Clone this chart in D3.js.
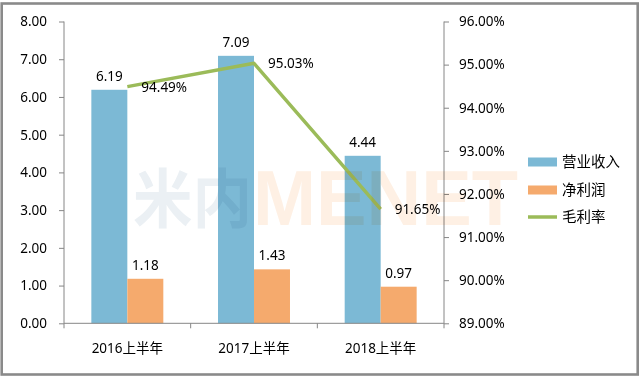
<!DOCTYPE html>
<html><head><meta charset="utf-8">
<script src="https://cdn.jsdelivr.net/npm/d3@7"></script>
<style>
html,body{margin:0;padding:0;background:#fff;}
svg{display:block;}
text{font-family:"Noto Sans","Noto Sans CJK SC",sans-serif;fill:#000;}
</style></head>
<body>
<svg id="c" width="641" height="378"></svg>
<script>
const categories = ["2016上半年","2017上半年","2018上半年"];
const revenue = [6.19, 7.09, 4.44];
const netProfit = [1.18, 1.43, 0.97];
const grossMargin = [94.49, 95.03, 91.65];
const leftTicks = [0,1,2,3,4,5,6,7,8];
const rightTicks = [89,90,91,92,93,94,95,96];
const seriesNames = ["营业收入","净利润","毛利率"];
const colors = {rev:"#7cb9d5", net:"#f5aa6d", gm:"#9bbb59"};

const svg = d3.select("#c");
const fs = 13.5;

// outer frame
svg.append("rect").attr("x",1.7).attr("y",3.5).attr("width",636).attr("height",371)
  .attr("fill","#fff").attr("stroke","#8a8a8a").attr("stroke-width",2.6);

const x0 = 64, x1 = 444, yTop = 21.5, yBot = 323.3;
const x = d3.scaleBand().domain(categories).range([x0,x1]).paddingInner(0).paddingOuter(0);
const xs = d3.scaleBand().domain(["rev","net"]).range([0,x.bandwidth()]).paddingInner(0).paddingOuter(0.76);
const yL = d3.scaleLinear().domain([0,8]).range([yBot,yTop]);
const yR = d3.scaleLinear().domain([89,96]).range([yBot,yTop]);

// bars
const g = svg.append("g");
categories.forEach((c,i)=>{
  [["rev",revenue[i]],["net",netProfit[i]]].forEach(([k,v])=>{
    g.append("rect").attr("x",x(c)+xs(k)).attr("y",yL(v))
      .attr("width",xs.bandwidth()).attr("height",yBot-yL(v)).attr("fill",colors[k]);
    g.append("text").attr("x",x(c)+xs(k)+xs.bandwidth()/2).attr("y",yL(v)-9)
      .attr("text-anchor","middle").attr("font-size",fs).text(v.toFixed(2));
  });
});

// axes
const axisColor = "#868686";
const aL = svg.append("g").attr("transform",`translate(${x0},0)`)
  .call(d3.axisLeft(yL).tickValues(leftTicks).tickSize(5).tickPadding(12).tickFormat(d=>d.toFixed(2)));
const aR = svg.append("g").attr("transform",`translate(${x1},0)`)
  .call(d3.axisRight(yR).tickValues(rightTicks).tickSize(5).tickPadding(10).tickFormat(d=>d.toFixed(2)+"%"));
const aB = svg.append("g").attr("transform",`translate(0,${yBot})`)
  .call(d3.axisBottom(x).tickSize(0).tickPadding(20));
const tickPos = [x0].concat(categories.map(c=>x(c)+x.bandwidth()));
svg.append("g").selectAll("line").data(tickPos).join("line")
  .attr("x1",d=>d).attr("x2",d=>d).attr("y1",yBot).attr("y2",yBot+5).attr("stroke",axisColor);
[aL,aR,aB].forEach(a=>{
  a.select(".domain").attr("stroke",axisColor).attr("stroke-width",1);
  a.selectAll(".tick line").attr("stroke",axisColor);
  a.selectAll("text").attr("font-size",fs).attr("font-family",'"Noto Sans","Noto Sans CJK SC",sans-serif').attr("fill","#000");
});
aL.select(".domain").attr("d",`M0,${yTop}V${yBot}`);
aR.select(".domain").attr("d",`M0,${yTop}V${yBot}`);
aB.select(".domain").attr("d",`M${x0},0H${x1}`);

// line
const pts = categories.map((c,i)=>[x(c)+x.bandwidth()/2, yR(grossMargin[i])]);
svg.append("path").attr("d",d3.line()(pts)).attr("fill","none")
  .attr("stroke",colors.gm).attr("stroke-width",3.5).attr("stroke-linejoin","round");
pts.forEach((p,i)=>{
  svg.append("text").attr("x",p[0]+14).attr("y",p[1]+1.5).attr("dominant-baseline","middle")
    .attr("font-size",fs).text(grossMargin[i].toFixed(2)+"%");
});

// watermark
svg.append("text").attr("x",133).attr("y",222).attr("font-size",64).attr("font-weight","bold")
  .attr("textLength",119).attr("lengthAdjust","spacingAndGlyphs")
  .style("font-family",'"Noto Sans CJK SC",sans-serif').style("fill","#ebf0f4")
  .style("mix-blend-mode","multiply").text("米内");
svg.append("text").attr("x",253).attr("y",225).attr("font-size",77).attr("font-weight","bold")
  .attr("textLength",265).attr("lengthAdjust","spacingAndGlyphs")
  .style("font-family",'"Liberation Sans",sans-serif').style("fill","#fef0e4")
  .style("mix-blend-mode","multiply").text("MENET");

// legend
const lg = svg.append("g");
const ly = [162,190,217];
lg.append("rect").attr("x",528).attr("y",ly[0]-4.5).attr("width",29).attr("height",9).attr("fill",colors.rev);
lg.append("rect").attr("x",528).attr("y",ly[1]-4.5).attr("width",29).attr("height",9).attr("fill",colors.net);
lg.append("line").attr("x1",528).attr("x2",557).attr("y1",ly[2]).attr("y2",ly[2]).attr("stroke",colors.gm).attr("stroke-width",3.5);
seriesNames.forEach((n,i)=>{
  lg.append("text").attr("x",562).attr("y",ly[i]+1).attr("dominant-baseline","middle")
    .attr("font-size",14.5).style("font-family",'"Noto Sans CJK SC",sans-serif').text(n);
});
</script>
</body></html>
